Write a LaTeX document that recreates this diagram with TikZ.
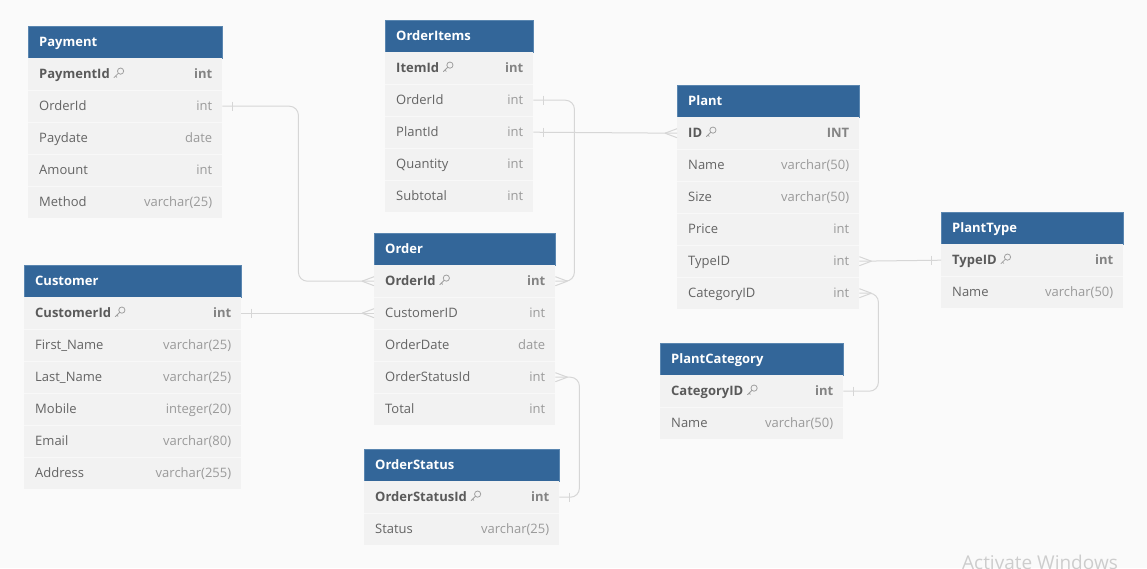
\documentclass[tikz,border=0pt]{standalone}
\usepackage{fontspec}
\setmainfont{Open Sans}
\usetikzlibrary{calc}

\definecolor{pagebg}{HTML}{FAFAFA}
\definecolor{hdrblue}{HTML}{336699}
\definecolor{hdrline}{HTML}{5A86B0}
\definecolor{rowbg}{HTML}{F2F2F2}
\definecolor{rowsep}{HTML}{F8F8F8}
\definecolor{fieldtxt}{HTML}{646464}
\definecolor{typetxt}{HTML}{9A9A9A}
\definecolor{keytxt}{HTML}{5A5A5A}
\definecolor{linkgray}{HTML}{D6D6D6}
\definecolor{icongray}{HTML}{A0A0A0}
\definecolor{wmgray}{HTML}{CDCDCD}

\tikzset{
  hdr/.style={rectangle, fill=hdrblue, draw=hdrline, line width=0.6pt,
              minimum height=32pt, inner sep=0pt},
  hdrtext/.style={inner sep=0pt, text=white, font=\fontsize{13}{15}\selectfont\bfseries},
  rowbox/.style={rectangle, fill=rowbg, minimum height=32pt, inner sep=0pt},
  fname/.style={inner sep=0pt, text=fieldtxt, font=\fontsize{13}{15}\selectfont},
  ftype/.style={inner sep=0pt, text=typetxt, font=\fontsize{13}{15}\selectfont},
  kname/.style={inner sep=0pt, text=keytxt, font=\fontsize{13}{15}\selectfont\bfseries},
  ktype/.style={inner sep=0pt, text=typetxt!85!black, font=\fontsize{13}{15}\selectfont\bfseries},
  link/.style={draw=linkgray, line width=1pt},
  keyicon/.pic={
    \draw[icongray, line width=0.8pt] (7.6,-7.4) circle[radius=3.1];
    \draw[icongray, line width=0.8pt, line cap=round] (5.4,-5.2) -- (1,-0.8);
    \draw[icongray, line width=0.8pt, line cap=round] (2.6,-2.4) -- (3.9,-1.1);
  }
}

% table: id, left x, width, top y, title, rows (primary key first)
\newcommand\ertable[6]{%
  \node[hdr, minimum width=#3pt, anchor=north west] (#1) at (#2,#4) {};
  \node[hdrtext, anchor=base west] (#1-title) at ([xshift=11pt,yshift=-4.3pt]#1.west) {#5};
  \foreach \fn/\ft [count=\i] in {#6} {
    \node[rowbox, minimum width=#3pt, anchor=north west] (#1-\i) at (#2,#4+32*\i) {};
    \ifnum\i>1
      \draw[rowsep, line width=1pt] (#1-\i.north west) -- (#1-\i.north east);
      \node[fname, anchor=base west] (#1-\i-name) at ([xshift=11pt,yshift=-4.3pt]#1-\i.west) {\fn};
      \node[ftype, anchor=base east] (#1-\i-type) at ([xshift=-10pt,yshift=-4.3pt]#1-\i.east) {\ft};
    \else
      \node[kname, anchor=base west] (#1-\i-name) at ([xshift=11pt,yshift=-4.3pt]#1-\i.west) {\fn};
      \node[ktype, anchor=base east] (#1-\i-type) at ([xshift=-10pt,yshift=-4.3pt]#1-\i.east) {\ft};
      \pic at ([xshift=3pt]#1-\i-name.base east) {keyicon};
    \fi
  }%
}

% crow's foot: anchor, direction (+1 points right, -1 points left)
\newcommand\crowfoot[2]{%
  \draw[link] ($(#1)+(#2*12,0)$) -- ($(#1)+(0,-4.5)$);
  \draw[link] ($(#1)+(#2*12,0)$) -- ($(#1)+(0,4.5)$);
}
% single bar: anchor, offset along the line
\newcommand\onebar[2]{%
  \draw[link] ($(#1)+(#2,-4.5)$) -- ($(#1)+(#2,4.5)$);
}

\begin{document}
\begin{tikzpicture}[x=1pt,y=-1pt]
  \fill[pagebg] (0,0) rectangle (1147,568);
  \useasboundingbox (0,0) rectangle (1147,568);

  \ertable{payment}{28}{194}{26}{Payment}{PaymentId/int, OrderId/int, Paydate/date, Amount/int, Method/varchar(25)}
  \ertable{orderitems}{385}{148}{20}{OrderItems}{ItemId/int, OrderId/int, PlantId/int, Quantity/int, Subtotal/int}
  \ertable{plant}{677}{182}{85}{Plant}{ID/INT, Name/varchar(50), Size/varchar(50), Price/int, TypeID/int, CategoryID/int}
  \ertable{planttype}{941}{182}{212}{PlantType}{TypeID/int, Name/varchar(50)}
  \ertable{order}{374}{181}{233}{Order}{OrderId/int, CustomerID/int, OrderDate/date, OrderStatusId/int, Total/int}
  \ertable{customer}{24}{217}{265}{Customer}{CustomerId/int, First\_Name/varchar(25), Last\_Name/varchar(25), Mobile/integer(20), Email/varchar(80), Address/varchar(255)}
  \ertable{plantcategory}{660}{183}{343}{PlantCategory}{CategoryID/int, Name/varchar(50)}
  \ertable{orderstatus}{364}{195}{449}{OrderStatus}{OrderStatusId/int, Status/varchar(25)}

  % relationships
  \draw[link, rounded corners=9pt] (payment-2.east) -- ++(76,0) |- (order-1.west);
  \onebar{payment-2.east}{10}
  \crowfoot{order-1.west}{-1}

  \draw[link] (customer-1.east) -- (order-2.west);
  \onebar{customer-1.east}{10}
  \crowfoot{order-2.west}{-1}

  \draw[link, rounded corners=9pt] (orderitems-2.east) -- ++(41,0) |- (order-1.east);
  \onebar{orderitems-2.east}{10}
  \crowfoot{order-1.east}{1}

  \draw[link] (orderitems-3.east) -- (plant-1.west);
  \onebar{orderitems-3.east}{10}
  \crowfoot{plant-1.west}{-1}

  \draw[link, rounded corners=9pt] (order-4.east) -- ++(24,0) |- (orderstatus-1.east);
  \crowfoot{order-4.east}{1}
  \onebar{orderstatus-1.east}{10}

  \draw[link] (plant-5.east) -- (planttype-1.west);
  \crowfoot{plant-5.east}{1}
  \onebar{planttype-1.west}{-10}

  \draw[link, rounded corners=9pt] (plant-6.east) -- ++(19,0) |- (plantcategory-1.east);
  \crowfoot{plant-6.east}{1}
  \onebar{plantcategory-1.east}{10}

  \node[anchor=base west, inner sep=0pt, text=wmgray, font=\fontsize{19}{21}\selectfont] (watermark) at (962,569) {Activate Windows};
\end{tikzpicture}
\end{document}
